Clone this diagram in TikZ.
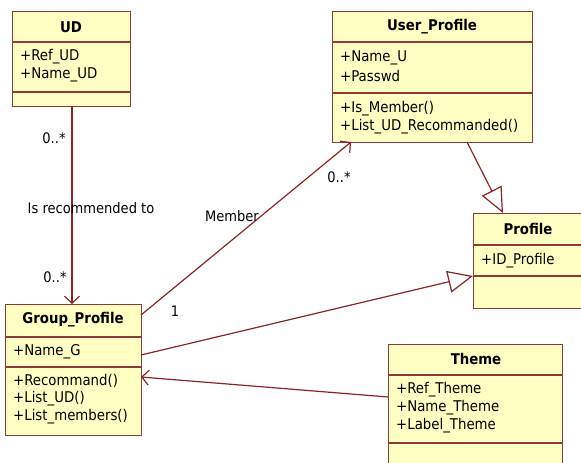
\documentclass[tikz,border=0pt]{standalone}
\usepackage{fontspec}
\setmainfont{DejaVu Sans Condensed}
\usetikzlibrary{arrows.meta}
\definecolor{fillc}{HTML}{FFFFC4}
\definecolor{bord}{HTML}{8E3A3A}
\definecolor{linec}{HTML}{8B2525}
\tikzset{
  cls/.style={draw=bord, fill=fillc, line width=1.4pt, inner sep=0pt, anchor=north west},
  sep/.style={draw=bord, line width=1.4pt},
  hdr/.style={font=\fontsize{14.8}{16}\selectfont\bfseries, inner sep=0pt, anchor=center},
  attr/.style={font=\fontsize{14.8}{16}\selectfont, inner sep=0pt, anchor=west},
  lbl/.style={font=\fontsize{14.5}{16}\selectfont, inner sep=0pt, anchor=center},
  assoc/.style={draw=linec, line width=1.2pt, -{Straight Barb[length=7pt,width=15pt,line width=1.2pt]}},
  gen/.style={draw=linec, line width=1.2pt, -{Triangle[open,length=25pt,width=22pt,line width=1.2pt,fill=white]}}
}
\begin{document}
\begin{tikzpicture}[x=1pt,y=-1pt]
\useasboundingbox (0,0) rectangle (581,463);
\clip (0,0) rectangle (581,463);
% UD
\node[cls, minimum width=118pt, minimum height=95pt] (ud) at (12,11) {};
\draw[sep] (12,42) -- (130,42) (12,92) -- (130,92);
\node[hdr] (udh) at (71,27) {UD};
\node[attr] (uda1) at (20,57) {+Ref\_UD};
\node[attr] (uda2) at (20,75) {+Name\_UD};
% User_Profile
\node[cls, minimum width=200pt, minimum height=131pt] (up) at (332,11) {};
\draw[sep] (332,42) -- (532,42) (332,93) -- (532,93);
\node[hdr] (uph) at (432,27) {User\_Profile};
\node[attr] (upa1) at (340,58) {+Name\_U};
\node[attr] (upa2) at (340,76) {+Passwd};
\node[attr] (upm1) at (340,109) {+Is\_Member()};
\node[attr] (upm2) at (340,127) {+List\_UD\_Recommanded()};
% Profile
\node[cls, minimum width=110pt, minimum height=95pt] (pr) at (473,213) {};
\draw[sep] (473,245) -- (583,245) (473,276) -- (583,276);
\node[hdr] (prh) at (528,229) {Profile};
\node[attr] (pra1) at (481,261) {+ID\_Profile};
% Group_Profile
\node[cls, minimum width=136pt, minimum height=131pt] (gp) at (5,304) {};
\draw[sep] (5,337) -- (141,337) (5,367) -- (141,367);
\node[hdr] (gph) at (73,320) {Group\_Profile};
\node[attr] (gpa1) at (13,352) {+Name\_G};
\node[attr] (gpm1) at (13,381) {+Recommand()};
\node[attr] (gpm2) at (13,399) {+List\_UD()};
\node[attr] (gpm3) at (13,417) {+List\_members()};
% Theme
\node[cls, minimum width=174pt, minimum height=130pt] (th) at (388,344) {};
\draw[sep] (388,375) -- (562,375) (388,443) -- (562,443);
\node[hdr] (thh) at (476,359) {Theme};
\node[attr] (tha1) at (396,390) {+Ref\_Theme};
\node[attr] (tha2) at (396,408) {+Name\_Theme};
\node[attr] (tha3) at (396,426) {+Label\_Theme};
% connector end points
\coordinate (udB) at (72,106);
\coordinate (gpT) at (72,304);
\coordinate (gpR1) at (141,315);
\coordinate (upBL) at (351,142);
\coordinate (gpR2) at (141,355);
\coordinate (prL) at (473,276);
\coordinate (upB) at (467,142);
\coordinate (prT) at (503,213);
\coordinate (thL) at (388,397);
\coordinate (gpR3) at (141,377);
% connectors
\draw[assoc] (udB) -- (gpT);
\draw[assoc] (gpR1) -- (upBL);
\draw[gen] (gpR2) -- (prL);
\draw[gen] (upB) -- (prT);
\draw[assoc] (thL) -- (gpR3);
% labels
\node[lbl] (l1) at (54,138) {0..*};
\node[lbl] (l2) at (91,208) {Is recommended to};
\node[lbl] (l3) at (55,277) {0..*};
\node[lbl] (l4) at (232,216) {Member};
\node[lbl] (l5) at (339,177) {0..*};
\node[lbl] (l6) at (175,311) {1};
\end{tikzpicture}
\end{document}
